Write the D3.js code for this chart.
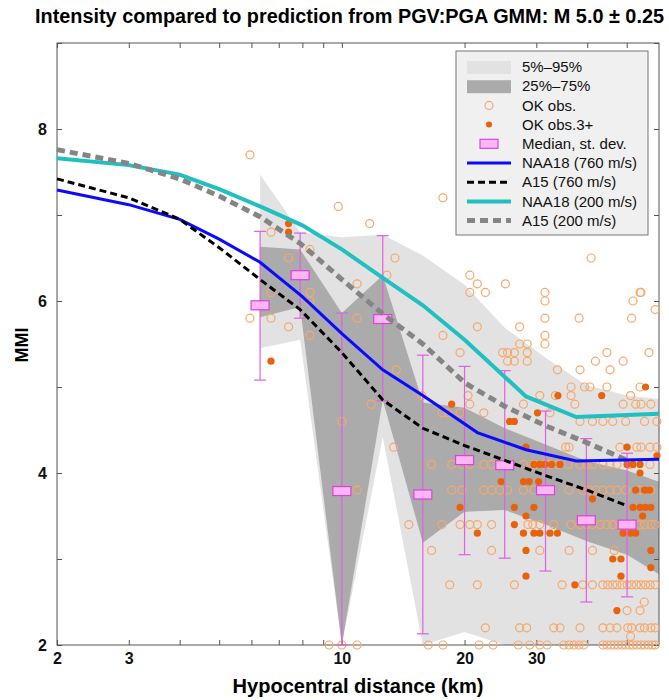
<!DOCTYPE html>
<html lang="en">
<head>
  <meta charset="UTF-8">
  <title>Intensity compared to prediction - D3.js</title>
  <script src="https://d3js.org/d3.v7.min.js"></script>
  <style>
    body {
      margin: 0;
      background: #fff;
      font-family: "Liberation Sans", Arial, sans-serif;
    }
    .tick line { stroke: #555; }
    .tick text { font-weight: bold; font-size: 16px; fill: #111; }
  </style>
</head>
<body>
  <div id="chart"></div>
  <script>
    // binned statistics (distance bin centres, km)
    const binKm = [6.3, 7.9, 10, 12.6, 15.8, 20, 25.1, 31.6, 39.8, 50.1];
    const medianMMI = [5.95, 6.30, 3.79, 5.79, 3.75, 4.15, 4.09, 3.80, 3.45, 3.40];
    const stdLow = [5.08, 5.80, 2.00, 4.84, 2.13, 3.05, 3.01, 2.86, 2.50, 2.56];
    const stdHigh = [6.81, 6.79, 5.86, 6.76, 5.37, 5.24, 5.19, 4.72, 4.40, 4.23];

    // percentile bands
    const bandKm = [6.3, 7.9, 10, 12.6, 15.8, 20, 25.1, 31.6, 39.8, 50.1, 63.1];
    const p05 = [5.45, 5.55, 2.0, 4.42, 2.0, 2.15, 2.0, 2.0, 2.0, 2.0, 2.0];
    const p25 = [5.81, 5.93, 2.0, 4.85, 3.19, 3.55, 3.57, 3.40, 3.21, 3.05, 2.76];
    const p75 = [6.63, 6.60, 5.86, 6.30, 4.82, 4.76, 4.52, 4.33, 4.14, 4.03, 3.86];
    const p95 = [7.47, 6.80, 6.74, 6.77, 6.53, 6.19, 5.69, 5.34, 5.02, 4.90, 4.85];

    // GMM predictions
    const naa760Km = [2, 3, 4, 5, 6.3, 8, 10, 12.6, 15.8, 21.5, 28.3, 37.6, 60];
    const naa760 = [7.29, 7.12, 6.95, 6.72, 6.45, 6.05, 5.62, 5.2, 4.9, 4.47, 4.27, 4.14, 4.16];
    const naa200Km = [2, 3, 4, 5, 6.3, 8, 10, 12.6, 15.8, 20, 28.3, 37.6, 60];
    const naa200 = [7.66, 7.58, 7.47, 7.3, 7.1, 6.88, 6.6, 6.27, 5.95, 5.55, 4.89, 4.65, 4.69];
    const a15Km = [2, 3, 4, 5, 6.3, 7.9, 10, 12.6, 15.8, 20, 25, 31.6, 40, 50];
    const a15_760 = [7.42, 7.2, 6.95, 6.62, 6.25, 5.9, 5.4, 4.85, 4.52, 4.32, 4.15, 3.97, 3.8, 3.62];
    const a15_200 = [7.76, 7.6, 7.42, 7.22, 6.98, 6.67, 6.25, 5.85, 5.5, 5.05, 4.78, 4.55, 4.35, 4.15];

    // OK observations: [MMI, distances (km)]
    const okObs = [
      [2.0, [9.3, 10.0, 10.9, 16.3, 17.7, 21.7, 23.5, 27.1, 28.9, 30.6, 31.9, 35.0, 36.1, 37.1, 38.2, 39.2,
             43.7, 44.7, 45.7, 46.6, 47.6, 48.7, 49.7, 50.8, 51.8, 53.0, 54.2, 55.3, 56.6, 57.8, 58.7]],
      [2.1, [51.1]],
      [2.2, [22.5, 27.3, 28.4, 33.1, 34.3, 38.4, 43.7, 45.5, 47.3, 50.3, 51.4, 53.9, 55.3, 57.3, 58.7]],
      [2.4, [50.1, 53.9]],
      [2.5, [55.2]],
      [2.7, [18.4, 21.5, 26.5, 34.7, 39.0, 41.2, 43.7, 44.9, 46.2, 47.3, 48.7, 50.1, 51.4, 52.8, 54.2, 55.6, 57.1, 58.7]],
      [3.1, [16.6, 23.3, 30.6, 36.1, 41.2, 46.6]],
      [3.4, [14.6, 17.6, 19.5, 20.6, 21.5, 23.3, 28.6, 29.4, 30.6, 33.1, 36.5, 38.4, 39.9, 41.2, 43.0, 44.7,
             46.2, 48.1, 49.7, 51.4, 53.9, 55.3, 57.3, 58.7]],
      [3.8, [10.9, 18.6, 19.7, 22.3, 23.3, 24.4, 25.5, 27.9, 29.6, 32.4, 36.1, 39.0, 40.4, 41.9, 43.7, 45.5,
             47.3, 49.7, 53.9, 57.3]],
      [4.1, [16.6, 18.6, 19.7, 20.6, 22.3, 23.3, 27.9, 29.6, 31.3, 32.4, 33.9, 35.9, 38.4, 39.9, 41.2, 43.7,
             45.5, 47.3, 50.9, 57.0]],
      [4.3, [13.4, 35.4, 36.1, 48.1, 52.9, 54.2, 57.0, 59.3]],
      [4.6, [10.0, 38.4, 41.2, 43.7, 46.2, 49.7, 55.3, 59.3]],
      [4.7, [17.6, 18.2, 19.5, 22.3, 32.4]],
      [4.8, [11.8, 20.6, 27.9, 37.3, 49.0, 52.6, 54.2, 57.3]],
      [4.9, [15.7, 20.4, 30.6, 33.4, 36.5, 51.1]],
      [5.0, [36.5, 39.4, 40.6, 44.7, 53.9]],
      [5.2, [13.6, 33.8, 38.4, 45.5]],
      [5.3, [25.5, 26.5, 28.5, 41.9, 49.0]],
      [5.4, [19.5, 24.8, 25.5, 26.5, 28.5, 44.7, 56.7]],
      [5.5, [27.3, 28.5, 31.5]],
      [5.6, [8.35, 17.7, 31.5]],
      [5.7, [7.4, 21.5, 27.3]],
      [5.8, [5.95, 6.7, 10.9, 31.5, 38.2, 51.4]],
      [5.9, [58.7]],
      [6.0, [8.35, 31.5, 51.8]],
      [6.1, [6.7, 8.35, 20.6, 22.5, 31.5, 53.9, 54.2]],
      [6.2, [10.9, 21.5, 25.2]],
      [6.3, [12.9, 20.6]],
      [6.5, [7.4, 13.5, 40.9]],
      [6.6, [8.35]],
      [6.8, [6.7]],
      [6.9, [11.7]],
      [7.1, [9.8]],
      [7.2, [17.7]],
      [7.7, [5.95]]
    ];

    // OK observations with 3+ responses: [MMI, distances (km)]
    const okObs3 = [
      [2.4, [47.3]],
      [2.7, [37.3]],
      [2.8, [28.3, 48.4]],
      [2.9, [57.3]],
      [3.0, [46.2, 48.4]],
      [3.1, [28.3, 57.3]],
      [3.3, [21.5, 27.9, 29.6, 30.6, 32.4, 33.8, 49.0, 51.1, 52.6]],
      [3.4, [26.5]],
      [3.5, [28.3, 54.7]],
      [3.6, [19.5, 26.5, 29.6, 51.8, 53.9, 55.6, 57.3]],
      [3.7, [41.2]],
      [3.8, [52.6, 55.3, 56.9]],
      [3.9, [24.6, 27.9, 28.8, 30.4]],
      [4.0, [53.9]],
      [4.1, [29.6, 30.6, 31.5, 32.7, 34.3, 50.1, 51.8, 53.9]],
      [4.2, [59.3]],
      [4.3, [28.3, 50.1]],
      [4.6, [25.8, 26.5]],
      [4.7, [30.2]],
      [4.8, [18.6]],
      [4.9, [33.9, 43.4]],
      [5.0, [55.6]],
      [5.3, [6.7]],
      [6.8, [7.4]],
      [6.9, [7.4]]
    ];

    const legendLabels = ["5%\u201395%", "25%\u201375%", "OK obs.", "OK obs.3+", "Median, st. dev.",
                          "NAA18 (760 m/s)", "A15 (760 m/s)", "NAA18 (200 m/s)", "A15 (200 m/s)"];

    const margin = { top: 43, right: 10, bottom: 55, left: 57 },
          width = 602,
          height = 602;

    const svg = d3.select("#chart")
      .append("svg")
      .attr("width", 669)
      .attr("height", 700);

    const g = svg.append("g")
      .attr("transform", `translate(${margin.left},${margin.top})`);

    const x = d3.scaleLog().domain([2, 60]).range([0, width]);
    const y = d3.scaleLinear().domain([2, 9]).range([height, 0]);

    g.append("clipPath").attr("id", "clip")
      .append("rect").attr("width", width).attr("height", height);

    // bands
    const bandData = bandKm.map((k, i) => ({ k, p05: p05[i], p25: p25[i], p75: p75[i], p95: p95[i] }));
    const plot = g.append("g").attr("clip-path", "url(#clip)");

    plot.append("path")
      .datum(bandData)
      .attr("fill", "#e2e2e2")
      .attr("d", d3.area().x(d => x(d.k)).y0(d => y(d.p05)).y1(d => y(d.p95)));

    plot.append("path")
      .datum(bandData)
      .attr("fill", "#ababab")
      .attr("d", d3.area().x(d => x(d.k)).y0(d => y(d.p25)).y1(d => y(d.p75)));

    // axes (ticks inward, box)
    const xTicks = [2, 3, 4, 5, 6, 7, 8, 9, 10, 20, 30, 40, 50];
    const xLabels = [2, 3, 10, 20, 30];
    const yTicks = [2, 3, 4, 5, 6, 7, 8, 9];

    g.append("g")
      .attr("transform", `translate(0,${height})`)
      .call(d3.axisBottom(x).tickValues(xTicks).tickSize(-5).tickPadding(8)
        .tickFormat(d => xLabels.includes(d) ? d : ""))
      .call(a => a.select(".domain").remove());

    g.append("g")
      .call(d3.axisTop(x).tickValues(xTicks).tickSize(-5).tickFormat(""))
      .call(a => a.select(".domain").remove());

    g.append("g")
      .call(d3.axisLeft(y).tickValues(yTicks).tickSize(-5).tickPadding(10)
        .tickFormat(d => d % 2 === 0 ? d : ""))
      .call(a => a.select(".domain").remove());

    g.append("g")
      .attr("transform", `translate(${width},0)`)
      .call(d3.axisRight(y).tickValues(yTicks).tickSize(-5).tickFormat(""))
      .call(a => a.select(".domain").remove());

    g.append("rect")
      .attr("width", width)
      .attr("height", height)
      .attr("fill", "none")
      .attr("stroke", "#555")
      .attr("stroke-width", 1);

    // observations
    const obsPts = okObs.flatMap(([m, ks]) => ks.map(k => ({ k, m })));
    const obs3Pts = okObs3.flatMap(([m, ks]) => ks.map(k => ({ k, m })));

    g.append("g").selectAll("circle")
      .data(obsPts)
      .enter()
      .append("circle")
      .attr("cx", d => x(d.k))
      .attr("cy", d => y(d.m))
      .attr("r", 4)
      .attr("fill", "none")
      .attr("stroke", "#f6a86a")
      .attr("stroke-width", 1.2);

    g.append("g").selectAll("circle")
      .data(obs3Pts)
      .enter()
      .append("circle")
      .attr("cx", d => x(d.k))
      .attr("cy", d => y(d.m))
      .attr("r", 3.6)
      .attr("fill", "#e8620c");

    // median and st. dev.
    const med = binKm.map((k, i) => ({ k, m: medianMMI[i], lo: stdLow[i], hi: stdHigh[i] }));
    const medG = g.append("g").selectAll("g")
      .data(med)
      .enter()
      .append("g");

    medG.append("line")
      .attr("x1", d => x(d.k)).attr("x2", d => x(d.k))
      .attr("y1", d => y(d.lo)).attr("y2", d => y(d.hi))
      .attr("stroke", "#e060e0").attr("stroke-width", 1.2);

    medG.selectAll(".cap")
      .data(d => [d.lo, d.hi].map(v => ({ k: d.k, v })))
      .enter()
      .append("line")
      .attr("x1", d => x(d.k) - 6).attr("x2", d => x(d.k) + 6)
      .attr("y1", d => y(d.v)).attr("y2", d => y(d.v))
      .attr("stroke", "#e060e0").attr("stroke-width", 1.2);

    medG.append("rect")
      .attr("x", d => x(d.k) - 9)
      .attr("y", d => y(d.m) - 4.5)
      .attr("width", 18)
      .attr("height", 9)
      .attr("fill", "#ffb4f6")
      .attr("stroke", "#d844d8")
      .attr("stroke-width", 1.2);

    // model curves
    const line = d3.line().x(d => x(d[0])).y(d => y(d[1]));
    const curves = [
      { km: naa200Km, v: naa200, color: "#20c0c0", w: 4, dash: null },
      { km: a15Km, v: a15_200, color: "#858585", w: 5, dash: "8,5" },
      { km: naa760Km, v: naa760, color: "#0a0aff", w: 3, dash: null },
      { km: a15Km, v: a15_760, color: "#000", w: 3, dash: "7,4" }
    ];

    g.append("g").selectAll("path")
      .data(curves)
      .enter()
      .append("path")
      .attr("d", c => line(c.km.map((k, i) => [k, c.v[i]])))
      .attr("fill", "none")
      .attr("stroke", c => c.color)
      .attr("stroke-width", c => c.w)
      .attr("stroke-dasharray", c => c.dash);

    // legend
    const lg = svg.append("g").attr("transform", "translate(456,51)");
    lg.append("rect")
      .attr("width", 192)
      .attr("height", 184)
      .attr("fill", "#f0f0f0")
      .attr("stroke", "#777");

    const rowY = i => 16 + i * 19.2;
    const sw0 = 11, sw1 = 55, swc = 33;

    lg.append("rect").attr("x", sw0).attr("y", rowY(0) - 6).attr("width", sw1 - sw0).attr("height", 13).attr("fill", "#e2e2e2");
    lg.append("rect").attr("x", sw0).attr("y", rowY(1) - 6).attr("width", sw1 - sw0).attr("height", 13).attr("fill", "#ababab");
    lg.append("circle").attr("cx", swc).attr("cy", rowY(2)).attr("r", 4).attr("fill", "none").attr("stroke", "#f6a86a").attr("stroke-width", 1.2);
    lg.append("circle").attr("cx", swc).attr("cy", rowY(3)).attr("r", 3).attr("fill", "#e8620c");
    lg.append("rect").attr("x", swc - 9).attr("y", rowY(4) - 4.5).attr("width", 18).attr("height", 9)
      .attr("fill", "#ffb4f6").attr("stroke", "#d844d8").attr("stroke-width", 1.2);

    const legCurves = [curves[2], curves[3], curves[0], curves[1]];
    legCurves.forEach((c, i) => {
      lg.append("line")
        .attr("x1", sw0).attr("x2", sw1)
        .attr("y1", rowY(5 + i)).attr("y2", rowY(5 + i))
        .attr("stroke", c.color)
        .attr("stroke-width", c.w)
        .attr("stroke-dasharray", c.dash);
    });

    lg.selectAll("text.leg")
      .data(legendLabels)
      .enter()
      .append("text")
      .attr("class", "leg")
      .attr("x", 66)
      .attr("y", (d, i) => rowY(i))
      .attr("dy", "0.35em")
      .style("font-size", "15px")
      .style("fill", "#111")
      .text(d => d);

    // titles
    svg.append("text")
      .attr("x", 35)
      .attr("y", 23)
      .attr("textLength", 629)
      .attr("lengthAdjust", "spacingAndGlyphs")
      .style("font-weight", "bold")
      .style("font-size", "20px")
      .text("Intensity compared to prediction from PGV:PGA GMM: M 5.0 \u00b1 0.25");

    svg.append("text")
      .attr("x", 358)
      .attr("y", 693)
      .attr("text-anchor", "middle")
      .attr("textLength", 251)
      .attr("lengthAdjust", "spacingAndGlyphs")
      .style("font-weight", "bold")
      .style("font-size", "20px")
      .text("Hypocentral distance (km)");

    svg.append("text")
      .attr("transform", "translate(28,345) rotate(-90)")
      .attr("text-anchor", "middle")
      .style("font-weight", "bold")
      .style("font-size", "18px")
      .text("MMI");
  </script>
</body>
</html>
